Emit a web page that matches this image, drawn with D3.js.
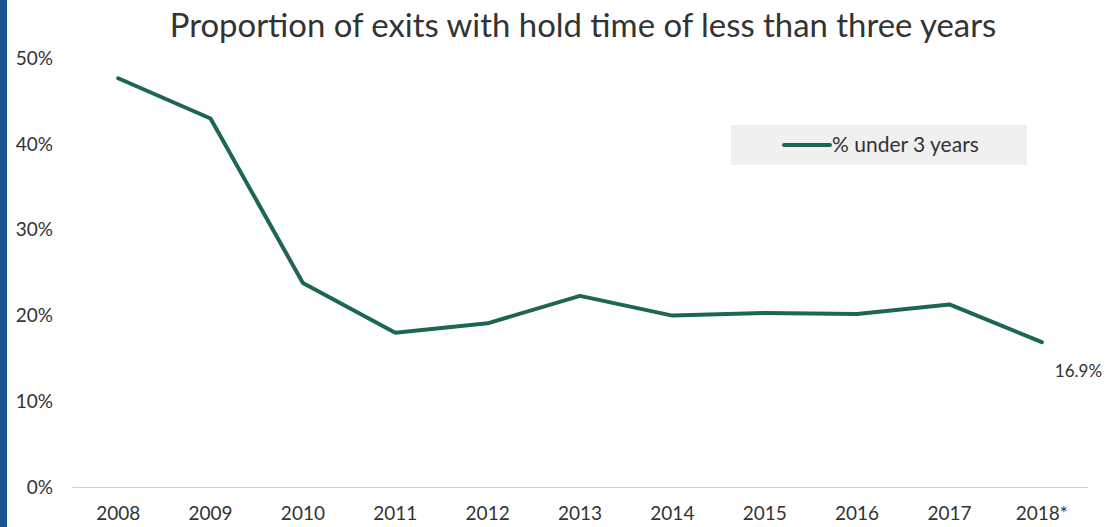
<!DOCTYPE html>
<html>
<head>
<meta charset="utf-8">
<script src="https://cdn.jsdelivr.net/npm/d3@7"></script>
<style>
  html, body { margin: 0; padding: 0; background: #fff; }
  svg { display: block; }
  text { font-family: Lato, "Open Sans", sans-serif; fill: #333; }
</style>
</head>
<body>
<svg id="chart" width="1109" height="527"></svg>
<script>
// Share of exits held for less than three years
const years = ["2008", "2009", "2010", "2011", "2012", "2013", "2014", "2015", "2016", "2017", "2018*"];
const shareUnder3 = [47.7, 43.0, 23.8, 18.0, 19.1, 22.3, 20.0, 20.3, 20.2, 21.3, 16.9];
const yTicks = [0, 10, 20, 30, 40, 50];
const titleText = "Proportion of exits with hold time of less than three years";
const seriesName = "% under 3 years";

const W = 1109, H = 527;
const svg = d3.select("#chart");
const lineColor = "#1d6656";
const fontStack = "Lato, 'Open Sans', sans-serif";

// left accent stripe
svg.append("rect").attr("x", 0).attr("y", 0).attr("width", 7).attr("height", H).attr("fill", "#1a5592");

const x = d3.scaleBand().domain(years).range([72, 1088]);
const y = d3.scaleLinear().domain([0, 50]).range([487, 58.5]);

// title, sized to its span
const title = svg.append("text")
  .attr("x", 583).attr("y", 37)
  .attr("text-anchor", "middle")
  .style("font-size", "28px")
  .text(titleText);
const tw = title.node().getComputedTextLength();
title.style("font-size", (28 * 827 / tw).toFixed(2) + "px");

// y axis labels
const yAxis = d3.axisLeft(y).tickValues(yTicks).tickFormat(d => d + "%").tickSize(0).tickPadding(0);
const gy = svg.append("g").attr("transform", "translate(53,0)").call(yAxis);
gy.select(".domain").remove();
gy.selectAll("text").style("font-size", "19px").attr("fill", "#333").attr("dy", "0.32em")
  .style("font-family", fontStack);

// x axis
const xAxis = d3.axisBottom(x).tickSize(0).tickPadding(20);
const gx = svg.append("g").attr("transform", "translate(0,487)").call(xAxis);
gx.select(".domain").attr("stroke", "#d0d0d0").attr("stroke-width", 1.2);
gx.selectAll("text").style("font-size", "19px").attr("fill", "#333")
  .style("font-family", fontStack);

// series line
const pts = years.map((yr, i) => [x(yr) + x.bandwidth() / 2, y(shareUnder3[i])]);
svg.append("path")
  .attr("d", d3.line()(pts))
  .attr("fill", "none")
  .attr("stroke", lineColor)
  .attr("stroke-width", 4)
  .attr("stroke-linejoin", "round")
  .attr("stroke-linecap", "round");

// end value label
const last = shareUnder3.length - 1;
svg.append("text")
  .attr("x", pts[last][0] + 13)
  .attr("y", pts[last][1] + 35)
  .style("font-size", "17px")
  .text(shareUnder3[last].toFixed(1) + "%");

// legend
const lg = svg.append("g");
lg.append("rect").attr("x", 731).attr("y", 125).attr("width", 296).attr("height", 40).attr("fill", "#f0f0f0");
lg.append("line").attr("x1", 784).attr("x2", 830).attr("y1", 145).attr("y2", 145)
  .attr("stroke", lineColor).attr("stroke-width", 4).attr("stroke-linecap", "round");
lg.append("text").attr("x", 832).attr("y", 152).style("font-size", "21px").text(seriesName);
</script>
</body>
</html>
